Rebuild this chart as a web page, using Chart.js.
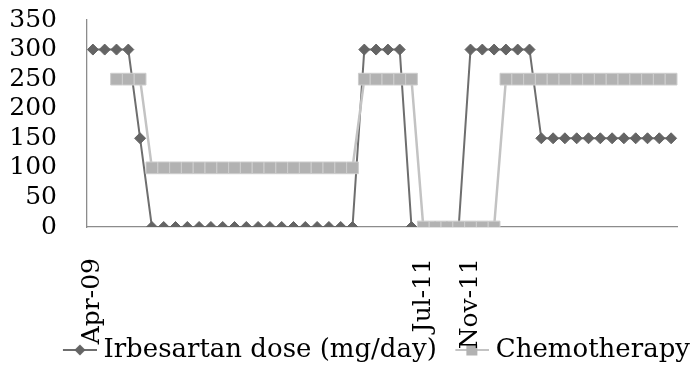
<!DOCTYPE html>
<html>
<head>
<meta charset="utf-8">
<script src="https://cdn.jsdelivr.net/npm/chart.js@4.4.1/dist/chart.umd.min.js"></script>
<style>
  html, body { margin: 0; padding: 0; background: #fff; }
</style>
</head>
<body>
<canvas id="doseChart" width="699" height="368"></canvas>
<script>
// x categories (only three of them carry a printed label)
var xLabels = ['Apr-09', '', '', '', '', '', '', '', '', '',
               '', '', '', '', '', '', '', '', '', '',
               '', '', '', '', '', '', '', '', 'Jul-11', '',
               '', '', 'Nov-11', '', '', '', '', '', '', '',
               '', '', '', '', '', '', '', '', '', ''];

var irbesartan = [300, 300, 300, 300, 150, 0, 0, 0, 0, 0,
                  0, 0, 0, 0, 0, 0, 0, 0, 0, 0,
                  0, 0, 0, 300, 300, 300, 300, 0, 0, 0,
                  0, 0, 300, 300, 300, 300, 300, 300, 150, 150,
                  150, 150, 150, 150, 150, 150, 150, 150, 150, 150];

var chemo = [null, null, 250, 250, 250, 100, 100, 100, 100, 100,
             100, 100, 100, 100, 100, 100, 100, 100, 100, 100,
             100, 100, 100, 250, 250, 250, 250, 250, 0, 0,
             0, 0, 0, 0, 0, 250, 250, 250, 250, 250,
             250, 250, 250, 250, 250, 250, 250, 250, 250, 250];

var yTicks = [0, 50, 100, 150, 200, 250, 300, 350];

var darkGray = '#646464';
var darkLine = '#6e6e6e';
var lightFill = '#b2b2b2';
var lightLine = '#c3c3c3';
var axisGray = '#8c8c8c';
var fontName = '"DejaVu Serif", serif';

// small line+marker pictures for the legend
function legendMarker(kind) {
    var c = document.createElement('canvas');
    c.width = 50;
    c.height = 20;
    var g = c.getContext('2d');
    g.lineWidth = 2;
    g.strokeStyle = kind == 'diamond' ? darkLine : lightLine;
    g.beginPath();
    g.moveTo(16, 10);
    g.lineTo(50, 10);
    g.stroke();
    if (kind == 'diamond') {
        g.fillStyle = darkGray;
        g.beginPath();
        g.moveTo(33, 4.5);
        g.lineTo(38.5, 10);
        g.lineTo(33, 15.5);
        g.lineTo(27.5, 10);
        g.closePath();
        g.fill();
    } else {
        g.fillStyle = lightFill;
        g.fillRect(27, 4.5, 11, 11);
    }
    return c;
}

var ctx = document.getElementById('doseChart').getContext('2d');

var doseChart = new Chart(ctx, {
    type: 'line',
    data: {
        labels: xLabels,
        datasets: [{
            label: 'Irbesartan dose (mg/day)',
            data: irbesartan,
            order: 1,
            borderColor: darkLine,
            borderWidth: 2,
            pointStyle: 'rectRot',
            pointRadius: 5.5,
            pointBackgroundColor: darkGray,
            pointBorderColor: darkGray,
            pointBorderWidth: 1,
            tension: 0
        },
        {
            label: 'Chemotherapy',
            data: chemo,
            order: 0,
            borderColor: lightLine,
            borderWidth: 2.5,
            pointStyle: 'rect',
            pointRadius: 8.3,
            pointBackgroundColor: lightFill,
            pointBorderColor: '#cdcdcd',
            pointBorderWidth: 1,
            tension: 0
        }]
    },
    options: {
        responsive: false,
        animation: false,
        layout: { padding: { left: 0, right: 0, top: 20, bottom: -5 } },
        plugins: {
            tooltip: { enabled: false },
            legend: {
                position: 'bottom',
                align: 'end',
                labels: {
                    usePointStyle: true,
                    pointStyleWidth: 37,
                    padding: 9,
                    color: '#000',
                    font: { family: fontName, size: 26 },
                    generateLabels: function(chart) {
                        return [
                            { text: 'Irbesartan dose (mg/day)', pointStyle: legendMarker('diamond'),
                              fillStyle: darkGray, strokeStyle: darkGray, lineWidth: 0, hidden: false, datasetIndex: 0 },
                            { text: 'Chemotherapy', pointStyle: legendMarker('square'),
                              fillStyle: lightFill, strokeStyle: lightFill, lineWidth: 0, hidden: false, datasetIndex: 1 }
                        ];
                    }
                }
            }
        },
        scales: {
            x: {
                type: 'category',
                offset: true,
                grid: { display: false, drawTicks: false },
                border: { display: true, color: axisGray, width: 1.3 },
                ticks: {
                    autoSkip: false,
                    minRotation: 90,
                    maxRotation: 90,
                    padding: 31,
                    color: '#000',
                    font: { family: fontName, size: 25 }
                },
                afterFit: function(scale) {
                    scale.height = 101;
                    scale.paddingLeft = 0;
                    scale.paddingRight = 0;
                    // let the long rotated labels run down into the legend row, like Excel
                    scale._computeLabelArea = function() { return undefined; };
                }
            },
            y: {
                min: 0,
                max: 350,
                grid: { display: false, drawTicks: false },
                border: { display: true, color: axisGray, width: 1.3 },
                afterBuildTicks: function(scale) {
                    scale.ticks = yTicks.map(function(v) { return { value: v }; });
                },
                ticks: {
                    autoSkip: false,
                    padding: 30,
                    color: '#000',
                    font: { family: fontName, size: 25 }
                },
                afterFit: function(scale) {
                    scale.width = 87;
                    scale.paddingTop = 0;
                    scale.paddingBottom = 0;
                }
            },
            // empty axis on the right just to leave the gap Excel had there
            yRight: {
                position: 'right',
                display: true,
                grid: { display: false, drawTicks: false },
                border: { display: false },
                ticks: { display: false },
                afterFit: function(scale) {
                    scale.width = 22;
                    scale.paddingTop = 0;
                    scale.paddingBottom = 0;
                }
            }
        }
    }
});
</script>
</body>
</html>
